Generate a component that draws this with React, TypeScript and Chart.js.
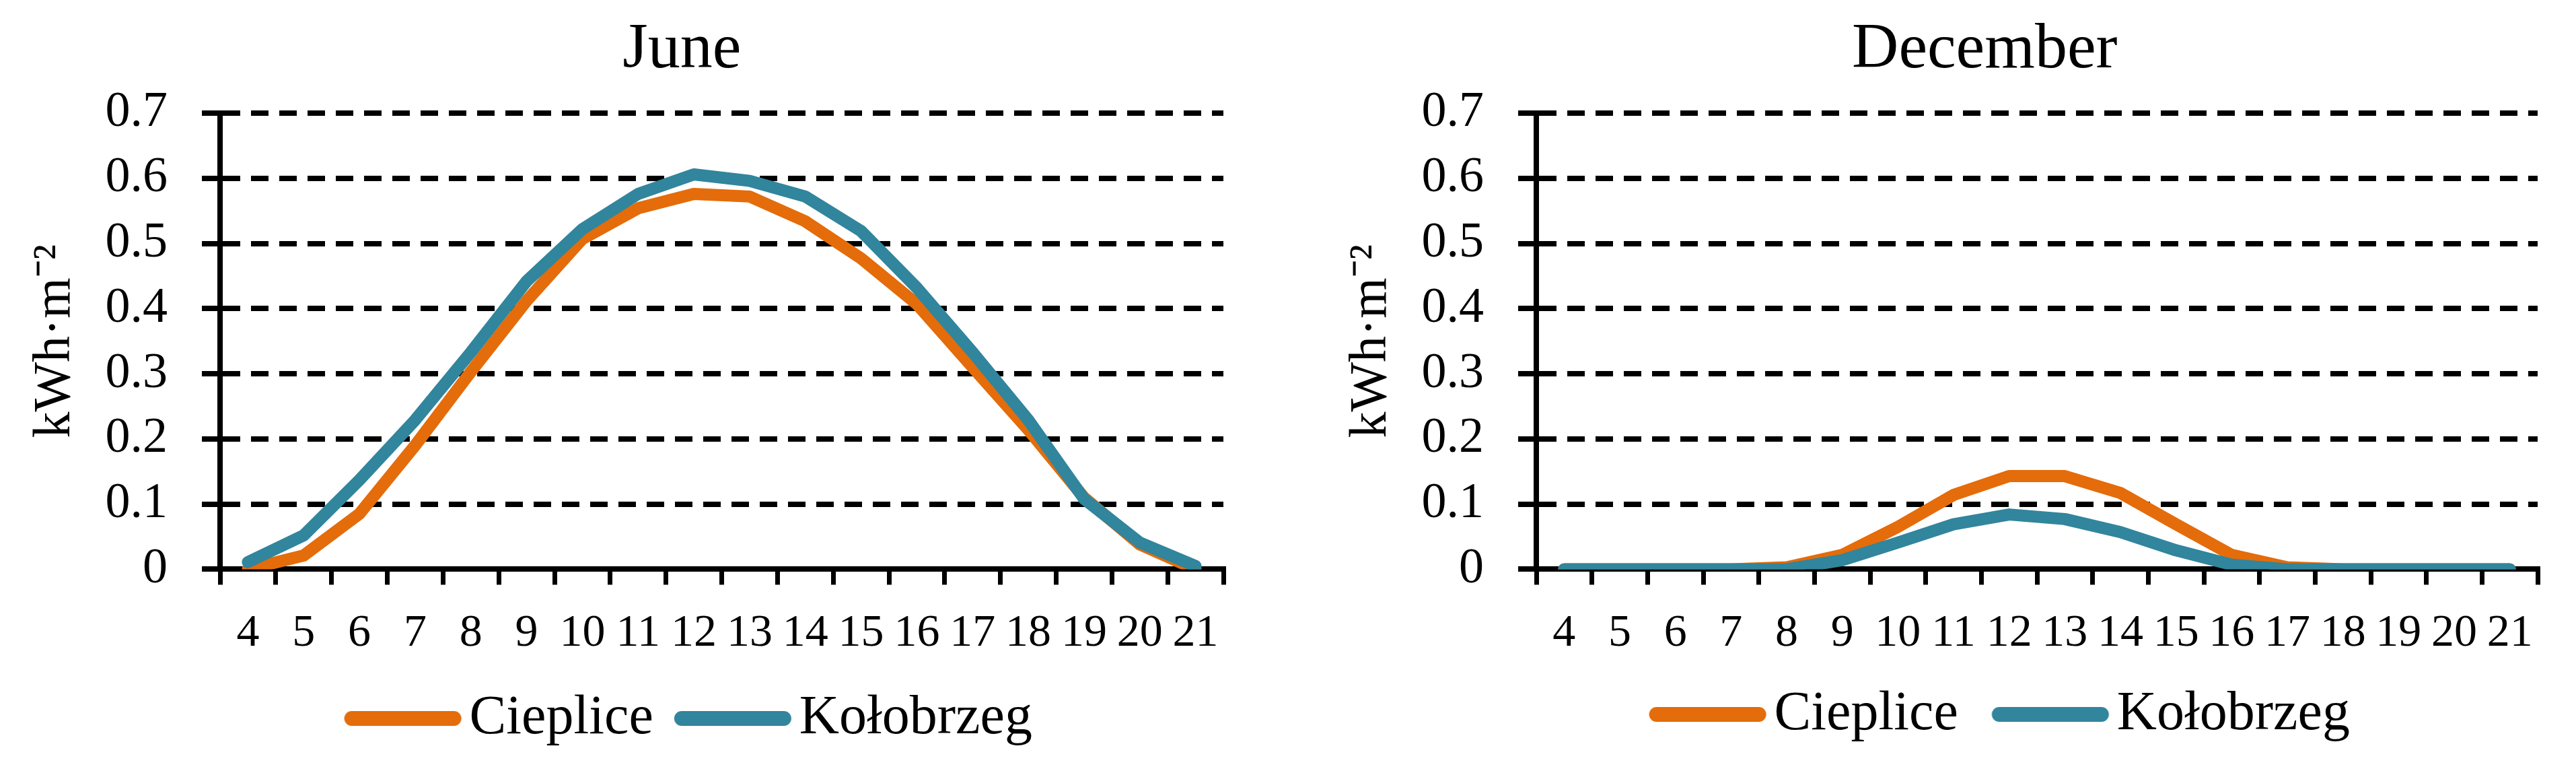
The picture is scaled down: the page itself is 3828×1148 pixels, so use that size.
import React, { useEffect, useRef } from 'react';
import { Chart, registerables } from 'chart.js';

Chart.register(...registerables);

// ---- data ----
const hours = ['4', '5', '6', '7', '8', '9', '10', '11', '12', '13', '14', '15', '16', '17', '18', '19', '20', '21'];
const seriesNames = ['Cieplice', 'Kołobrzeg'];
const panelTitles = ['June', 'December'];
const yAxisTitle = 'kWh·m⁻²';
const yTickLabels = ['0', '0.1', '0.2', '0.3', '0.4', '0.5', '0.6', '0.7'];

const juneCieplice = [0.0, 0.021, 0.085, 0.19, 0.303, 0.412, 0.507, 0.554, 0.576, 0.572, 0.534, 0.477, 0.407, 0.31, 0.214, 0.11, 0.038, 0.0];
const juneKolobrzeg = [0.011, 0.052, 0.137, 0.229, 0.333, 0.442, 0.522, 0.576, 0.606, 0.596, 0.572, 0.519, 0.432, 0.333, 0.229, 0.108, 0.041, 0.005];
const decemberCieplice = [0, 0, 0, 0, 0.003, 0.022, 0.065, 0.114, 0.143, 0.143, 0.117, 0.069, 0.022, 0.003, 0, 0, 0, 0];
const decemberKolobrzeg = [0, 0, 0, 0, 0, 0.014, 0.041, 0.069, 0.084, 0.077, 0.057, 0.029, 0.007, 0, 0, 0, 0, 0];

// ---- styles ----
const ORANGE = '#E46C0A';
const TEAL = '#31859C';
const FONT = "'Liberation Serif', 'Times New Roman', serif";
const H = 1148;
const LEGEND_FONT = 82;
const LEGEND_LINE = 174;
const LEGEND_GAP = 12;

// legend marker: a thick rounded line that ends LEGEND_GAP px before the label text
function legendLine(color: string, bw: number) {
  const half = LEGEND_FONT / 2;
  const end = bw / 2 + half - LEGEND_GAP; // relative to marker centre
  const start = end - LEGEND_LINE;
  const hw = Math.ceil(Math.max(Math.abs(end), Math.abs(start))) + 1;
  const thick = 22;
  const c = document.createElement('canvas');
  c.width = hw * 2;
  c.height = thick + 2;
  const g = c.getContext('2d') as CanvasRenderingContext2D;
  g.strokeStyle = color;
  g.lineWidth = thick;
  g.lineCap = 'round';
  g.beginPath();
  g.moveTo(hw + start + thick / 2, c.height / 2);
  g.lineTo(hw + end - thick / 2, c.height / 2);
  g.stroke();
  return c;
}

interface PanelOpts {
  title: string;
  cieplice: number[];
  kolobrzeg: number[];
  rightPad: number;
  bottomPad: number;
  legendPadding: number;
  legendBoxWidth: number;
}

function makeConfig(p: PanelOpts): any {
  const colors = [ORANGE, TEAL];
  const markers = colors.map((c) => legendLine(c, p.legendBoxWidth));
  const lineDs = (label: string, data: number[], color: string, order: number) => ({
    label, data, borderColor: color, backgroundColor: color,
    borderWidth: 18, pointRadius: 0, pointHoverRadius: 0, tension: 0, fill: false,
    borderCapStyle: 'round', borderJoinStyle: 'round', order, yAxisID: 'y', xAxisID: 'x',
  });
  return {
    type: 'line',
    data: {
      labels: hours,
      datasets: [
        lineDs(seriesNames[0], p.cieplice, ORANGE, 2),
        lineDs(seriesNames[1], p.kolobrzeg, TEAL, 1),
      ],
    },
    options: {
      responsive: false,
      maintainAspectRatio: false,
      devicePixelRatio: 1,
      animation: false,
      events: [],
      layout: { padding: { left: 43.5, right: 10, top: 0, bottom: p.bottomPad } },
      plugins: {
        tooltip: { enabled: false },
        title: {
          display: true,
          text: p.title,
          color: '#000',
          font: { family: FONT, size: 96, weight: 'normal', lineHeight: 1.2 },
          padding: { top: 17, bottom: 35.8 },
        },
        legend: {
          display: true,
          position: 'bottom',
          fullSize: true,
          labels: {
            color: '#000',
            font: { family: FONT, size: LEGEND_FONT },
            usePointStyle: true,
            pointStyleWidth: p.legendBoxWidth,
            boxHeight: 22,
            padding: p.legendPadding,
            generateLabels: (chart: any) =>
              chart.data.datasets.map((ds: any, i: number) => ({
                text: ds.label,
                fillStyle: colors[i],
                strokeStyle: colors[i],
                lineWidth: 0,
                pointStyle: markers[i],
                hidden: false,
                datasetIndex: i,
                fontColor: '#000',
              })),
          },
        },
      },
      scales: {
        x: {
          type: 'category',
          offset: true,
          grid: {
            offset: true,
            display: true,
            drawOnChartArea: false,
            drawTicks: true,
            tickLength: 23,
            lineWidth: 7,
            color: '#000',
          },
          border: { display: true, color: '#000', width: 8 },
          ticks: {
            color: '#000',
            font: { family: FONT, size: 68, lineHeight: 1.2 },
            padding: 32,
            autoSkip: false,
            maxRotation: 0,
            minRotation: 0,
          },
        },
        y: {
          type: 'linear',
          position: 'left',
          min: 0,
          max: 0.7,
          grid: {
            color: '#000',
            lineWidth: 8,
            tickLength: 27,
            tickWidth: 8,
            tickColor: '#000',
            drawTicks: true,
          },
          border: { display: true, color: '#000', width: 8, dash: [26, 16] },
          ticks: {
            stepSize: 0.1,
            color: '#000',
            font: { family: FONT, size: 74, lineHeight: 1.2 },
            padding: 51,
            callback: (v: number) => yTickLabels[Math.round(v * 10)],
          },
          title: {
            display: true,
            text: yAxisTitle,
            color: '#000',
            font: { family: FONT, size: 78, lineHeight: 1 },
            padding: { top: 0, bottom: -16 },
          },
        },
        yPad: {
          type: 'linear',
          position: 'right',
          display: true,
          grid: { display: false },
          border: { display: false },
          ticks: { display: false },
          afterFit: (s: any) => { s.width = p.rightPad; },
        },
      },
    },
  };
}

function Panel({ left, width, opts }: { left: number; width: number; opts: PanelOpts }) {
  const ref = useRef<HTMLCanvasElement>(null);
  useEffect(() => {
    const chart = new Chart(ref.current as HTMLCanvasElement, makeConfig(opts));
    return () => chart.destroy();
  }, []);
  return (
    <canvas
      ref={ref}
      width={width}
      height={H}
      style={{ position: 'absolute', left, top: 0, width, height: H, display: 'block' }}
    />
  );
}

const juneOpts: PanelOpts = {
  title: panelTitles[0], cieplice: juneCieplice, kolobrzeg: juneKolobrzeg,
  rightPad: 165, bottomPad: 30, legendPadding: 12, legendBoxWidth: 164,
};
const decemberOpts: PanelOpts = {
  title: panelTitles[1], cieplice: decemberCieplice, kolobrzeg: decemberKolobrzeg,
  rightPad: 128, bottomPad: 36, legendPadding: 6, legendBoxWidth: 189,
};

export default function App() {
  return (
    <div
      style={{
        position: 'absolute', left: 0, top: 0, width: 3828, height: H,
        overflow: 'hidden', background: '#fff',
      }}
    >
      <Panel left={0} width={1818 + 165 + 10} opts={juneOpts} />
      <Panel left={1956} width={1815 + 128 + 10} opts={decemberOpts} />
    </div>
  );
}
